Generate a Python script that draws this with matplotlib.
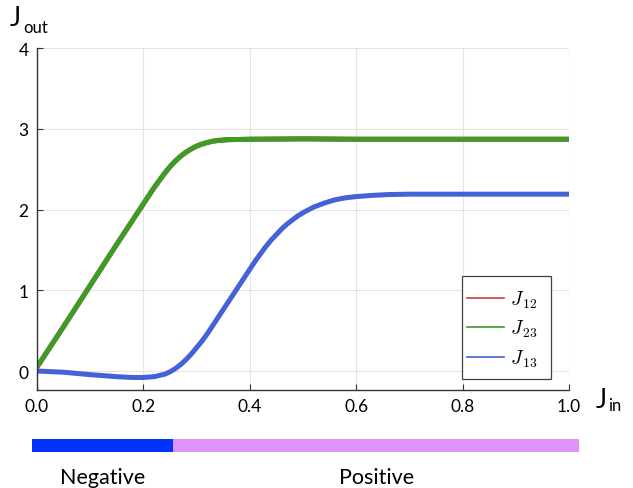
import matplotlib
matplotlib.use("Agg")
import matplotlib.pyplot as plt
import matplotlib.transforms as mtransforms
from matplotlib.patches import Rectangle

plt.rcParams['font.family'] = ['Lato', 'DejaVu Sans']
plt.rcParams['mathtext.fontset'] = 'cm'

# flux curves, J_out vs J_in
j_in_23 = [0.00, 0.05, 0.10, 0.15, 0.20, 0.21, 0.22, 0.23, 0.24, 0.25, 0.26, 0.27, 0.28,
           0.29, 0.30, 0.31, 0.32, 0.33, 0.34, 0.36, 0.40, 0.50, 0.60, 0.80, 1.00]
j_23 = [0.05, 0.55, 1.06, 1.57, 2.07, 2.17, 2.27, 2.36, 2.45, 2.53, 2.60, 2.66, 2.71,
        2.75, 2.785, 2.81, 2.83, 2.845, 2.855, 2.865, 2.87, 2.875, 2.87, 2.87, 2.87]
j_12 = list(j_23)  # coincides with J23

j_in_13 = [0.00, 0.05, 0.10, 0.15, 0.18, 0.20, 0.22, 0.24, 0.25, 0.26, 0.27, 0.28,
           0.29, 0.30, 0.31, 0.32, 0.33, 0.34, 0.35, 0.36, 0.37, 0.38, 0.39, 0.40,
           0.41, 0.42, 0.43, 0.44, 0.45, 0.46, 0.47, 0.48, 0.49, 0.50, 0.52, 0.54,
           0.56, 0.58, 0.60, 0.63, 0.66, 0.70, 0.80, 1.00]
j_13 = [0.00, -0.015, -0.045, -0.07, -0.08, -0.08, -0.07, -0.04, -0.01, 0.03, 0.08, 0.14,
        0.21, 0.29, 0.37, 0.46, 0.56, 0.66, 0.76, 0.86, 0.96, 1.06, 1.16, 1.26,
        1.36, 1.45, 1.54, 1.62, 1.69, 1.76, 1.82, 1.87, 1.92, 1.96, 2.03, 2.08,
        2.12, 2.145, 2.16, 2.175, 2.185, 2.19, 2.19, 2.19]

# regime bar underneath
regime_names = ["Negative", "Positive"]
regime_edges = [0.0, 0.258, 1.0]
regime_colors = ["#0033ff", "#e094fa"]

W, H = 633, 489
fig = plt.figure(figsize=(W / 100, H / 100), dpi=100)

ax = fig.add_axes([37 / W, 1 - 391 / H, (569 - 37) / W, (391 - 49) / H])
ax.plot(j_in_23, j_12, color="#d03c3c", lw=3.6, label=r"$J_{\,12}$")
ax.plot(j_in_23, j_23, color="#3c9c28", lw=3.6, label=r"$J_{\,23}$")
ax.plot(j_in_13, j_13, color="#4362d8", lw=3.6, label=r"$J_{\,13}$")

ax.set_xlim(0, 1)
ax.set_ylim(-0.235, 4)
ax.set_xticks([0.0, 0.2, 0.4, 0.6, 0.8, 1.0])
ax.set_xticklabels(["0.0", "0.2", "0.4", "0.6", "0.8", "1.0"])
ax.set_yticks([0, 1, 2, 3, 4])
ax.grid(True, color="#e4e4e4", lw=0.8)
ax.set_axisbelow(True)
for side in ["top", "right"]:
    ax.spines[side].set_visible(False)
for side in ["left", "bottom"]:
    ax.spines[side].set_color("#333333")
    ax.spines[side].set_linewidth(1.0)
ax.tick_params(direction="in", length=4, width=0.8, color="#333333",
               labelsize=12.5, pad=6)

# legend without its own frame, box drawn separately
leg = ax.legend(loc="center left", bbox_to_anchor=((467 - 37) / 532, (391 - 329.5) / 342),
                frameon=False, fontsize=14, handlelength=1.9, handletextpad=0.3,
                labelspacing=0.42, borderpad=0, borderaxespad=0)
for line in leg.get_lines():
    line.set_linewidth(1.2)
ax.add_patch(Rectangle(((462 - 37) / 532, (391 - 380) / 342), 89 / 532, 103 / 342,
                       transform=ax.transAxes, fill=True, facecolor="white",
                       edgecolor="#404040", lw=0.9, zorder=4))
leg.set_zorder(5)

# axis names
fig.text(10 / W, 1 - 19 / H, "J", fontsize=19, va="center", ha="left")
fig.text(23 / W, 1 - 28 / H, "out", fontsize=12, va="center", ha="left")
fig.text(596 / W, 1 - 401 / H, "J", fontsize=19, va="center", ha="left")
fig.text(608 / W, 1 - 406 / H, "in", fontsize=12, va="center", ha="left")

# regime bar
bar_ax = fig.add_axes([32 / W, 1 - 453 / H, (579 - 32) / W, 13 / H])
tr = mtransforms.blended_transform_factory(bar_ax.transData, bar_ax.transAxes)
for name, lo, hi, col in zip(regime_names, regime_edges[:-1], regime_edges[1:], regime_colors):
    bar_ax.axvspan(lo, hi, color=col, lw=0)
    bar_ax.text((lo + hi) / 2, -1.9, name, transform=tr, ha="center", va="center",
                fontsize=15.5)
bar_ax.set_xlim(0, 1)
bar_ax.axis("off")

fig.savefig("out.png", dpi=100)
